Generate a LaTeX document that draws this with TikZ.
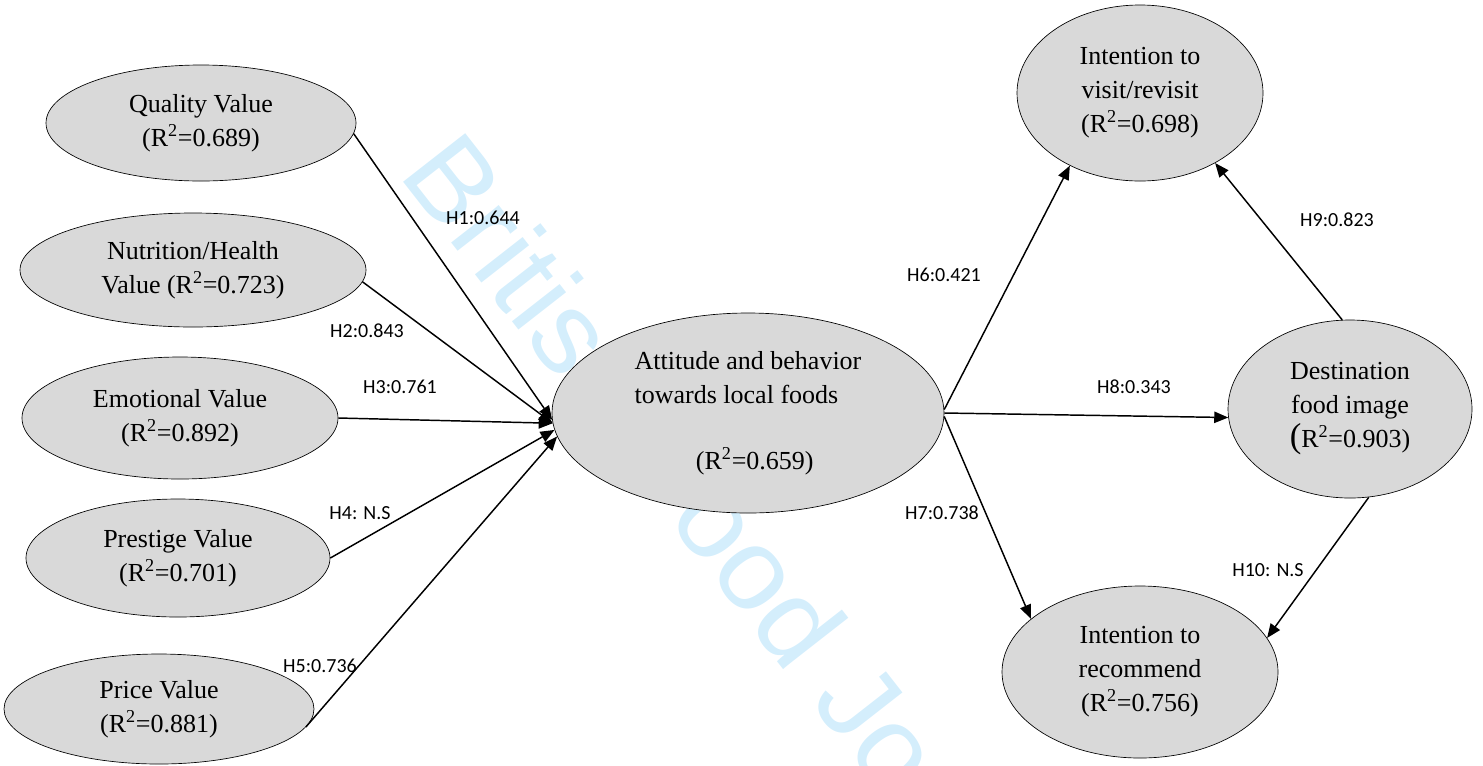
\documentclass[tikz,border=0pt]{standalone}
\usepackage{fontspec}
\setmainfont{Liberation Serif}
\newfontfamily\labfont{Carlito}
\newfontfamily\wmfont{Liberation Sans}
\usetikzlibrary{shapes.geometric,arrows.meta}
\definecolor{ovalgray}{RGB}{217,217,217}
\definecolor{wmblue}{RGB}{212,238,252}
\begin{document}
\begin{tikzpicture}[x=0.75pt,y=-0.75pt,
  oval/.style={ellipse, draw=black, line width=0.5pt, fill=ovalgray, inner sep=0pt,
    align=center, font=\fontsize{19.5}{25.5}\selectfont},
  link/.style={line width=1.1pt, -{Triangle[length=10.5pt,width=8.5pt]}},
  hlab/.style={font=\labfont\fontsize{15}{18}\selectfont, inner sep=0pt},
  wmark/.style={font=\wmfont\fontsize{86}{86}\selectfont, text=wmblue, inner sep=0pt}]
\useasboundingbox (0,0) rectangle (1483,765);

% watermark
\node[wmark, anchor=base west, rotate=-52] (wm) at (397,174) {\scalebox{1.04}[1]{British Food Journal}};

% left constructs
\node[oval, minimum width=232.5pt, minimum height=87pt] (q) at (201,123) {Quality Value\\(R\textsuperscript{2}=0.689)};
\node[oval, minimum width=259.5pt, minimum height=85.5pt] (n) at (193,270) {Nutrition/Health\\Value (R\textsuperscript{2}=0.723)};
\node[oval, minimum width=237pt, minimum height=91.5pt] (e) at (180,418) {Emotional Value\\(R\textsuperscript{2}=0.892)};
\node[oval, minimum width=228pt, minimum height=88.5pt] (p) at (178,558) {Prestige Value\\(R\textsuperscript{2}=0.701)};
\node[oval, minimum width=232.5pt, minimum height=82.5pt] (pr) at (159,709) {Price Value\\(R\textsuperscript{2}=0.881)};

% central construct
\node[oval, align=left, minimum width=294pt, minimum height=150pt] (att) at (748,413)
  {Attitude and behavior\\towards local foods\\[24pt]\hspace*{46pt}(R\textsuperscript{2}=0.659)};

% right constructs
\node[oval, minimum width=184.5pt, minimum height=132pt] (vis) at (1140,93) {Intention to\\visit/revisit\\(R\textsuperscript{2}=0.698)};
\node[oval, minimum width=183pt, minimum height=133.5pt] (dest) at (1350,409) {Destination\\food image\\{\fontsize{26}{26}\selectfont(}R\textsuperscript{2}=0.903)};
\node[oval, minimum width=207pt, minimum height=129pt] (rec) at (1140,672) {Intention to\\recommend\\(R\textsuperscript{2}=0.756)};

% paths
\draw[link] (q.-4) -- (att.182);
\draw[link] (n.-4) -- (att.183);
\draw[link] (e.east) -- (att.183);
\draw[link] (p.east) -- (att.185);
\draw[link] (pr.-7) -- (att.187);
\draw[link] (att.1.5) -- (vis.226);
\draw[link] (att.east) -- (dest.184);
\draw[link] (att.-1.5) -- (rec.154);
\draw[link] (dest.95) -- (vis.-43);
\draw[link] (dest.-78) -- (rec.15);

% path labels
\node[hlab] (l1) at (483,218) {H1:0.644};
\node[hlab] (l2) at (367,331) {H2:0.843};
\node[hlab] (l3) at (400,387) {H3:0.761};
\node[hlab] (l4) at (360,513) {H4: N.S};
\node[hlab] (l5) at (320,666) {H5:0.736};
\node[hlab] (l6) at (944,275) {H6:0.421};
\node[hlab] (l7) at (942,513) {H7:0.738};
\node[hlab] (l8) at (1134,387) {H8:0.343};
\node[hlab] (l9) at (1337,220) {H9:0.823};
\node[hlab] (l10) at (1268,570) {H10: N.S};
\end{tikzpicture}
\end{document}
